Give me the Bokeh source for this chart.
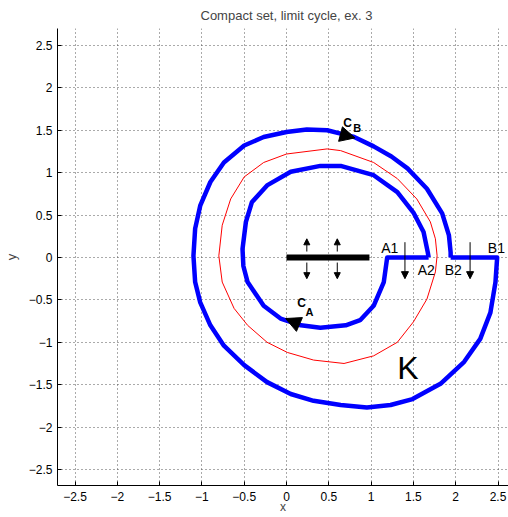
from bokeh.plotting import figure
from bokeh.models import FixedTicker, Arrow, NormalHead, Range1d, ColumnDataSource
from bokeh.core.properties import value
from bokeh.embed import file_html
from bokeh.resources import INLINE

# ---- data ----
tick_vals = [-2.5, -2.0, -1.5, -1.0, -0.5, 0.0, 0.5, 1.0, 1.5, 2.0, 2.5]
tick_labels = ["\u22122.5", "\u22122", "\u22121.5", "\u22121", "\u22120.5", "0", "0.5", "1", "1.5", "2", "2.5"]

outer_x = [1.94, 1.94, 1.92, 1.84, 1.66, 1.43, 1.24, 1.03, 0.80, 0.64, 0.48, 0.24, 0.00, -0.27, -0.50, -0.74,
           -0.90, -1.02, -1.08, -1.10, -1.08, -1.02, -0.90, -0.74, -0.50, -0.23, 0.05, 0.32, 0.64, 0.95, 1.23,
           1.49, 1.82, 2.10, 2.29, 2.41, 2.47, 2.49, 1.94]
outer_y = [0.00, 0.06, 0.26, 0.52, 0.81, 1.05, 1.19, 1.31, 1.42, 1.46, 1.50, 1.51, 1.48, 1.42, 1.32, 1.12,
           0.89, 0.61, 0.34, 0.02, -0.29, -0.53, -0.80, -1.04, -1.27, -1.47, -1.61, -1.69, -1.74, -1.77, -1.74,
           -1.67, -1.49, -1.23, -0.96, -0.65, -0.29, 0.00, 0.00]

inner_x = [1.68, 1.67, 1.62, 1.50, 1.31, 1.03, 0.64, 0.40, 0.05, -0.23, -0.41, -0.48, -0.52, -0.51, -0.46,
           -0.27, -0.07, 0.17, 0.40, 0.70, 0.87, 1.03, 1.15, 1.19, 1.68]
inner_y = [0.00, 0.06, 0.30, 0.53, 0.77, 0.97, 1.08, 1.08, 1.01, 0.85, 0.65, 0.42, 0.10, -0.10, -0.29,
           -0.57, -0.72, -0.80, -0.83, -0.80, -0.74, -0.57, -0.29, 0.00, 0.00]

cycle_x = [1.78, 1.76, 1.70, 1.54, 1.31, 1.03, 0.64, 0.48, 0.00, -0.27, -0.50, -0.66, -0.76, -0.80, -0.76,
           -0.62, -0.46, -0.23, 0.01, 0.32, 0.68, 1.03, 1.31, 1.50, 1.66, 1.76, 1.78]
cycle_y = [0.02, 0.22, 0.42, 0.69, 0.93, 1.12, 1.26, 1.28, 1.22, 1.12, 0.95, 0.69, 0.38, 0.02, -0.29,
           -0.60, -0.80, -1.00, -1.12, -1.21, -1.25, -1.16, -1.00, -0.76, -0.49, -0.17, 0.02]

seg_x = [0.0, 0.98]
seg_y = [0.0, 0.0]

# small arrows: vertical flows
up_x = [0.24, 0.60]
up_y0 = [0.07, 0.07]
up_y1 = [0.22, 0.22]
down_x = [0.24, 0.60]
down_y0 = [-0.06, -0.06]
down_y1 = [-0.25, -0.25]
gate_x = [1.40, 2.17]
gate_y0 = [0.18, 0.18]
gate_y1 = [-0.25, -0.25]

# direction arrows on the curves (start -> tip)
dir_x0 = [0.60, 0.21]
dir_y0 = [1.465, -0.815]
dir_x1 = [0.81, -0.01]
dir_y1 = [1.41, -0.72]

lab_text = ["A1", "A2", "B2", "B1"]
lab_x = [1.12, 1.55, 1.87, 2.38]
lab_y = [0.112, -0.144, -0.144, 0.112]

FONT = "Liberation Sans"

p = figure(width=508, height=517,
           x_range=Range1d(-2.707, 2.624), y_range=Range1d(-2.689, 2.70),
           output_backend="svg", toolbar_location=None,
           min_border_left=57, min_border_right=0, min_border_top=28, min_border_bottom=32,
           title="Compact set, limit cycle, ex. 3")

p.title.text_font = FONT
p.title.text_font_size = "13px"
p.title.text_font_style = "normal"
p.title.align = "left"
p.title.offset = 143
p.title.standoff = 11
p.outline_line_color = None
p.background_fill_color = "white"
p.border_fill_color = "white"

for ax in (p.xaxis[0], p.yaxis[0]):
    ax.ticker = FixedTicker(ticks=tick_vals)
    ax.major_label_overrides = {v: s for v, s in zip(tick_vals, tick_labels)}
    ax.major_tick_in = 4
    ax.major_tick_out = 0
    ax.minor_tick_line_color = None
    ax.axis_line_color = "black"
    ax.major_tick_line_color = "black"
    ax.major_label_text_font = FONT
    ax.major_label_text_font_size = "12px"
    ax.major_label_text_color = "black"
    ax.axis_label_text_font = FONT
    ax.axis_label_text_font_size = "13px"
    ax.axis_label_text_font_style = "normal"

p.xaxis.axis_label = "x"
p.yaxis.axis_label = "y"
p.xaxis.major_label_standoff = 6
p.xaxis.axis_label_standoff = -4
p.xaxis.axis_label_text_font_size = "12px"
p.yaxis.major_label_standoff = 5
p.yaxis.axis_label_standoff = 7

for g in (p.xgrid[0], p.ygrid[0]):
    g.ticker = FixedTicker(ticks=tick_vals)
    g.grid_line_color = "#555555"
    g.grid_line_dash = "1 3"
    g.grid_line_width = 1

# curves
p.line(cycle_x, cycle_y, line_color="#ff0000", line_width=1)
p.line(outer_x, outer_y, line_color="#0000ff", line_width=4.5, line_join="round")
p.line(inner_x, inner_y, line_color="#0000ff", line_width=4.5, line_join="round")
p.line(seg_x, seg_y, line_color="black", line_width=6)

# small arrows
for xs, y0, y1, lw, hs in ((up_x, up_y0, up_y1, 1, 6), (down_x, down_y0, down_y1, 1, 6),
                           (gate_x, gate_y0, gate_y1, 1, 7)):
    src = ColumnDataSource(dict(x0=xs, y0=y0, x1=xs, y1=y1))
    p.add_layout(Arrow(source=src, x_start="x0", y_start="y0", x_end="x1", y_end="y1",
                       line_color="black", line_width=lw,
                       end=NormalHead(size=hs, fill_color="black", line_color="black")))

# direction arrowheads on spiral
dsrc = ColumnDataSource(dict(x0=dir_x0, y0=dir_y0, x1=dir_x1, y1=dir_y1))
p.add_layout(Arrow(source=dsrc, x_start="x0", y_start="y0", x_end="x1", y_end="y1",
                   line_color=None, line_width=0,
                   end=NormalHead(size=15, fill_color="black", line_color="black")))

# labels
p.text(lab_x, lab_y, text=lab_text, text_font=value(FONT), text_font_size="14px",
       text_baseline="middle", text_align="left", text_color="black")
p.text([1.31], [-1.303], text=["K"], text_font=value(FONT), text_font_size="32px",
       text_baseline="middle", text_align="left", text_color="black")
p.text([0.67, 0.126], [1.586, -0.542], text=["C", "C"], text_font=value(FONT), text_font_size="12px",
       text_font_style="bold", text_baseline="middle", text_align="left", text_color="black")
p.text([0.79, 0.225], [1.527, -0.639], text=["B", "A"], text_font=value(FONT), text_font_size="11px",
       text_font_style="bold", text_baseline="middle", text_align="left", text_color="black")

open("out.html", "w").write(file_html(p, INLINE))
